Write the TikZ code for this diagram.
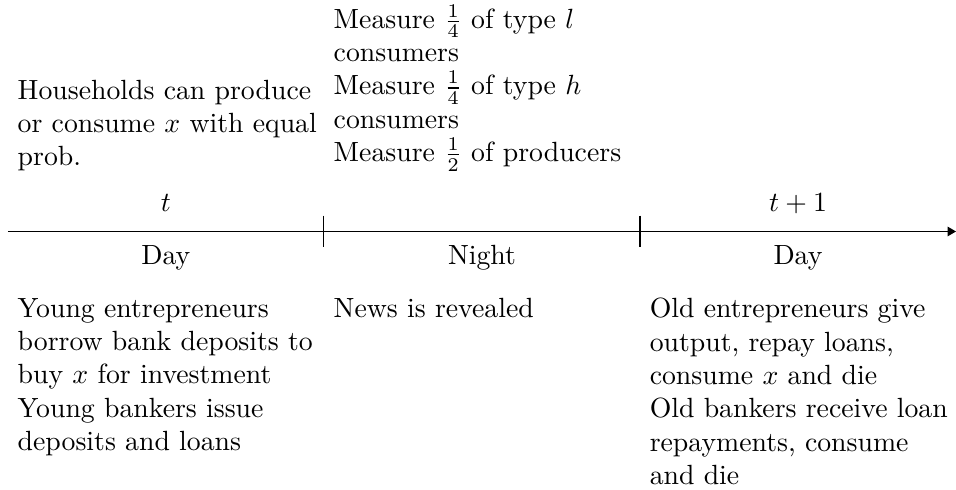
\documentclass[tikz,border=0pt]{standalone}
\usepackage{amsmath}
\usetikzlibrary{arrows.meta}

\begin{document}
\begin{tikzpicture}[note/.style={align=left, inner sep=0.333em},
                    period/.style={anchor=base}]
  \useasboundingbox (-0.1,-3.26) rectangle (12,2.93);
  \coordinate (start) at (0,0);
  \coordinate (end) at (12,0);
  \coordinate (dusk) at (4,0);
  \coordinate (dawn) at (8,0);
  \draw[-{Triangle[length=3pt,width=3.4pt]}] (start) -- (end);
  \foreach \c in {dusk,dawn}
    \draw ([yshift=2mm]\c) -- ([yshift=-2mm]\c);
  % dates and periods
  \node[period] (tnow) at (2,0.25) {$t$};
  \node[period] (tnext) at (10,0.25) {$t+1$};
  \node[period] (day) at (2,-0.42) {Day};
  \node[period] (night) at (6,-0.42) {Night};
  \node[period] (nextday) at (10,-0.42) {Day};
  % notes above the line
  \node[note, anchor=south west] (households) at (0,0.64)
    {Households can produce\\or consume $x$ with equal\\prob.};
  \node[note, anchor=south west] (measures) at (4,0.64)
    {Measure $\frac{1}{4}$ of type $l$\\consumers\\Measure $\frac{1}{4}$ of type $h$\\consumers\\Measure $\frac{1}{2}$ of producers};
  % notes below the line
  \node[note, anchor=north west] (young) at (0,-0.72)
    {Young entrepreneurs\\borrow bank deposits to\\buy $x$ for investment\\Young bankers issue\\deposits and loans};
  \node[note, anchor=north west] (news) at (4,-0.72) {News is revealed};
  \node[note, anchor=north west] (old) at (8,-0.72)
    {Old entrepreneurs give\\output, repay loans,\\consume $x$ and die\\Old bankers receive loan\\repayments, consume\\and die};
\end{tikzpicture}
\end{document}
